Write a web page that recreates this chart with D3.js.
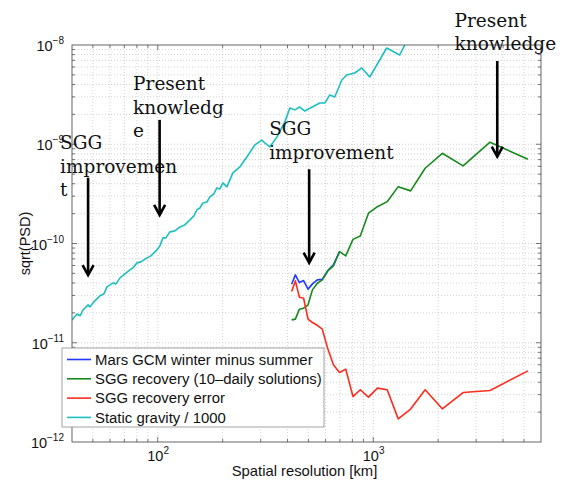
<!DOCTYPE html>
<html lang="en">

<head>
    <meta charset="UTF-8">
    <title>sqrt(PSD) vs spatial resolution</title>
    <script src="https://d3js.org/d3.v7.min.js"></script>
    <style>
        body {
            margin: 0;
            padding: 0;
            background: #fff;
            font-family: "Liberation Sans", Arial, Helvetica, sans-serif;
        }

        .grid line {
            stroke: #c8c8c8;
            stroke-width: 0.8;
            stroke-dasharray: 1, 2;
        }

        .note {
            font-family: "DejaVu Serif", "Liberation Serif", serif;
            font-size: 18.5px;
            fill: #111;
        }
    </style>
</head>

<body>
    <svg id="vis"></svg>
    <script>
        const width = 564;
        const height = 480;
        const margin = { top: 45, right: 23, bottom: 38, left: 72 };

        // spherical harmonic sampled resolutions [km] (shared by the three SGG curves)
        const resolutionKm = [5220, 3480, 2610, 2090, 1740, 1490, 1305, 1160, 1045, 950, 870, 805,
            745, 697, 653, 615, 580, 550, 522, 498, 475, 454, 435, 418];
        const marsGcm = [null, null, null, null, null, null, null, null, null, null, null, null,
            null, 8.28e-11, 6.09e-11, 5.33e-11, 4.37e-11, 4.30e-11, 3.92e-11, 3.47e-11, 4.23e-11, 4.04e-11, 4.83e-11, 3.89e-11];
        const sggRecovery = [7.06e-10, 1.05e-9, 6.05e-10, 8.11e-10, 5.73e-10, 3.39e-10, 3.74e-10, 2.64e-10, 2.35e-10, 2.02e-10, 1.19e-10, 1.10e-10,
            7.50e-11, 8.28e-11, 5.94e-11, 5.30e-11, 4.30e-11, 3.98e-11, 3.41e-11, 2.41e-11, 2.23e-11, 2.18e-11, 1.73e-11, 1.70e-11];
        const sggError = [5.21e-12, 3.30e-12, 3.15e-12, 2.16e-12, 3.36e-12, 2.15e-12, 1.71e-12, 3.36e-12, 3.49e-12, 2.83e-12, 3.36e-12, 2.87e-12,
            5.42e-12, 5.01e-12, 5.99e-12, 8.68e-12, 1.37e-11, 1.50e-11, 1.60e-11, 1.73e-11, 2.81e-11, 2.88e-11, 4.20e-11, 3.28e-11];

        // static gravity / 1000
        const staticKm = [40.0, 42.2, 43.6, 45.0, 47.5, 48.5, 50.0, 53.9, 56.3, 58.1, 62.0, 64.0, 66.8, 70.4, 74.3, 76.7,
            80.1, 83.5, 89.1, 92.9, 99.1, 102.3, 105.7, 109.1, 113.8, 120.1, 126.7, 133.6, 141.0, 147.1, 151.9, 156.8,
            161.9, 169.0, 174.5, 182.1, 188.0, 194.2, 200.5, 209.3, 223.1, 240.4, 259.0, 282.1, 304.0, 314.0, 331.1,
            356.8, 388.6, 410.1, 432.5, 456.1, 481.1, 564.8, 595.7, 628.3, 662.7, 714.2, 753.3, 820.3, 884.3, 962.9,
            1154, 1326, 1476];
        const staticGravity = [1.70e-11, 1.95e-11, 1.87e-11, 2.14e-11, 2.41e-11, 2.30e-11, 2.52e-11, 2.97e-11, 3.11e-11,
            3.66e-11, 4.01e-11, 3.92e-11, 4.50e-11, 4.94e-11, 5.42e-11, 5.68e-11, 6.38e-11, 6.53e-11, 7.16e-11, 7.50e-11,
            8.62e-11, 9.46e-11, 1.14e-10, 1.14e-10, 1.31e-10, 1.34e-10, 1.47e-10, 1.54e-10, 1.73e-10, 1.90e-10, 2.18e-10,
            2.28e-10, 2.56e-10, 2.62e-10, 2.95e-10, 3.16e-10, 3.63e-10, 3.55e-10, 4.08e-10, 3.72e-10, 5.14e-10, 5.91e-10,
            7.45e-10, 9.84e-10, 1.10e-9, 1.03e-9, 9.39e-10, 1.18e-9, 1.68e-9, 2.32e-9, 2.22e-9, 2.37e-9, 2.16e-9, 2.60e-9,
            2.60e-9, 3.14e-9, 2.99e-9, 4.44e-9, 4.99e-9, 5.22e-9, 5.87e-9, 4.76e-9, 9.33e-9, 7.93e-9, 1.26e-8];

        const seriesNames = ["Mars GCM winter minus summer", "SGG recovery (10\u2013daily solutions)",
            "SGG recovery error", "Static gravity / 1000"];
        const seriesColors = ["#2038ff", "#168a1c", "#ff2b1c", "#1dbfc0"];

        const xTicks = [1e2, 1e3];
        const xTickExp = ["2", "3"];
        const yTicks = [1e-12, 1e-11, 1e-10, 1e-9, 1e-8];
        const yTickExp = ["\u221212", "\u221211", "\u221210", "\u22129", "\u22128"];

        // annotations: arrow at km, from value to value
        const arrowKm = [47.5, 102, 504, 3760];
        const arrowFrom = [4.6e-10, 1.76e-9, 5.6e-10, 6.9e-9];
        const arrowTo = [4.8e-11, 1.94e-10, 6.4e-11, 7.5e-10];
        const noteLines = [["SGG", "improvemen", "t"], ["Present", "knowledg", "e"],
            ["SGG", "improvement"], ["Present", "knowledge"]];
        const noteOffset = [[-28, -29], [-26.5, -30], [-40, -34], [-42.7, -34.3]];

        const svg = d3.select("#vis").attr("width", width).attr("height", height);

        const x = d3.scaleLog().domain([40, 6000]).range([margin.left, width - margin.right]);
        const y = d3.scaleLog().domain([1e-12, 1e-8]).range([height - margin.bottom, margin.top]);
        const x0 = x.range()[0], x1 = x.range()[1], y0 = y.range()[0], y1 = y.range()[1];

        svg.append("defs").append("clipPath").attr("id", "plot-clip")
            .append("rect").attr("x", x0).attr("y", y1).attr("width", x1 - x0).attr("height", y0 - y1);

        // grid (major + minor)
        const xGridVals = x.ticks().filter(v => v > 40 && v < 6000);
        const yGridVals = y.ticks().filter(v => v > 1e-12 && v < 1e-8);
        const grid = svg.append("g").attr("class", "grid");
        grid.selectAll(".gx").data(xGridVals).join("line")
            .attr("x1", d => x(d)).attr("x2", d => x(d)).attr("y1", y1).attr("y2", y0);
        grid.selectAll(".gy").data(yGridVals).join("line")
            .attr("y1", d => y(d)).attr("y2", d => y(d)).attr("x1", x0).attr("x2", x1);

        // tick marks on all four sides, pointing inward
        const isMajor = v => Math.abs(Math.log10(v) - Math.round(Math.log10(v))) < 1e-6;
        const ticks = svg.append("g").attr("stroke", "#555").attr("stroke-width", 0.8);
        xGridVals.forEach(v => {
            const len = isMajor(v) ? 5 : 3;
            ticks.append("line").attr("x1", x(v)).attr("x2", x(v)).attr("y1", y0).attr("y2", y0 - len);
            ticks.append("line").attr("x1", x(v)).attr("x2", x(v)).attr("y1", y1).attr("y2", y1 + len);
        });
        yGridVals.forEach(v => {
            const len = isMajor(v) ? 5 : 3;
            ticks.append("line").attr("y1", y(v)).attr("y2", y(v)).attr("x1", x0).attr("x2", x0 + len);
            ticks.append("line").attr("y1", y(v)).attr("y2", y(v)).attr("x1", x1).attr("x2", x1 - len);
        });

        // data lines
        const line = d3.line().defined(d => d[1] != null).x(d => x(d[0])).y(d => y(d[1]));
        const plot = svg.append("g").attr("clip-path", "url(#plot-clip)")
            .attr("fill", "none").attr("stroke-width", 1.6).attr("stroke-linejoin", "round");
        const series = [
            resolutionKm.map((k, i) => [k, marsGcm[i]]),
            resolutionKm.map((k, i) => [k, sggRecovery[i]]),
            resolutionKm.map((k, i) => [k, sggError[i]]),
            staticKm.map((k, i) => [k, staticGravity[i]])
        ];
        series.forEach((s, i) => {
            plot.append("path").datum(s).attr("d", line).attr("stroke", seriesColors[i]);
        });

        // box
        svg.append("rect").attr("x", x0).attr("y", y1).attr("width", x1 - x0).attr("height", y0 - y1)
            .attr("fill", "none").attr("stroke", "#555").attr("stroke-width", 0.9);

        // tick labels
        const yLab = svg.append("g").attr("font-size", 14.5).attr("fill", "#111").attr("text-anchor", "end");
        yTicks.forEach((v, i) => {
            const t = yLab.append("text").attr("x", x0 - 8).attr("y", y(v) + 6);
            t.append("tspan").text("10");
            t.append("tspan").attr("dy", -7).attr("font-size", 10).text(yTickExp[i]);
        });
        const xLab = svg.append("g").attr("font-size", 14.5).attr("fill", "#111");
        xTicks.forEach((v, i) => {
            const t = xLab.append("text").attr("x", x(v) - 10.5).attr("y", y0 + 19);
            t.append("tspan").text("10");
            t.append("tspan").attr("dy", -7).attr("font-size", 10).text(xTickExp[i]);
        });

        svg.append("text").attr("x", (x0 + x1) / 2 - 2).attr("y", height - 4)
            .attr("text-anchor", "middle").attr("font-size", 14.8).attr("fill", "#111")
            .text("Spatial resolution [km]");
        svg.append("text").attr("transform", `translate(30,${(y0 + y1) / 2}) rotate(-90)`)
            .attr("text-anchor", "middle").attr("font-size", 14.5).attr("fill", "#111")
            .text("sqrt(PSD)");

        // legend
        const legend = svg.append("g").attr("transform", "translate(62,348)");
        legend.append("rect").attr("width", 262).attr("height", 79)
            .attr("fill", "#fff").attr("stroke", "#9a9a9a").attr("stroke-width", 0.9);
        seriesNames.forEach((name, i) => {
            const yy = 11.5 + i * 19.3;
            legend.append("line").attr("x1", 5).attr("x2", 29).attr("y1", yy).attr("y2", yy)
                .attr("stroke", seriesColors[i]).attr("stroke-width", 1.6);
            legend.append("text").attr("x", 33).attr("y", yy + 5.2).attr("font-size", 14.9)
                .attr("fill", "#111").text(name);
        });

        // annotations
        const notes = svg.append("g");
        arrowKm.forEach((k, i) => {
            const ax = x(k), ya = y(arrowFrom[i]), yb = y(arrowTo[i]);
            notes.append("line").attr("x1", ax).attr("x2", ax).attr("y1", ya).attr("y2", yb - 1)
                .attr("stroke", "#000").attr("stroke-width", 2.6);
            notes.append("path").attr("d", `M${ax - 5.5},${yb - 10}L${ax},${yb}L${ax + 5.5},${yb - 10}`)
                .attr("fill", "none").attr("stroke", "#000").attr("stroke-width", 2.6);
            const t = notes.append("text").attr("class", "note")
                .attr("x", ax + noteOffset[i][0]).attr("y", ya + noteOffset[i][1]);
            noteLines[i].forEach((s, j) => {
                t.append("tspan").attr("x", ax + noteOffset[i][0]).attr("dy", j === 0 ? 0 : 23.8).text(s);
            });
        });
    </script>
</body>

</html>
